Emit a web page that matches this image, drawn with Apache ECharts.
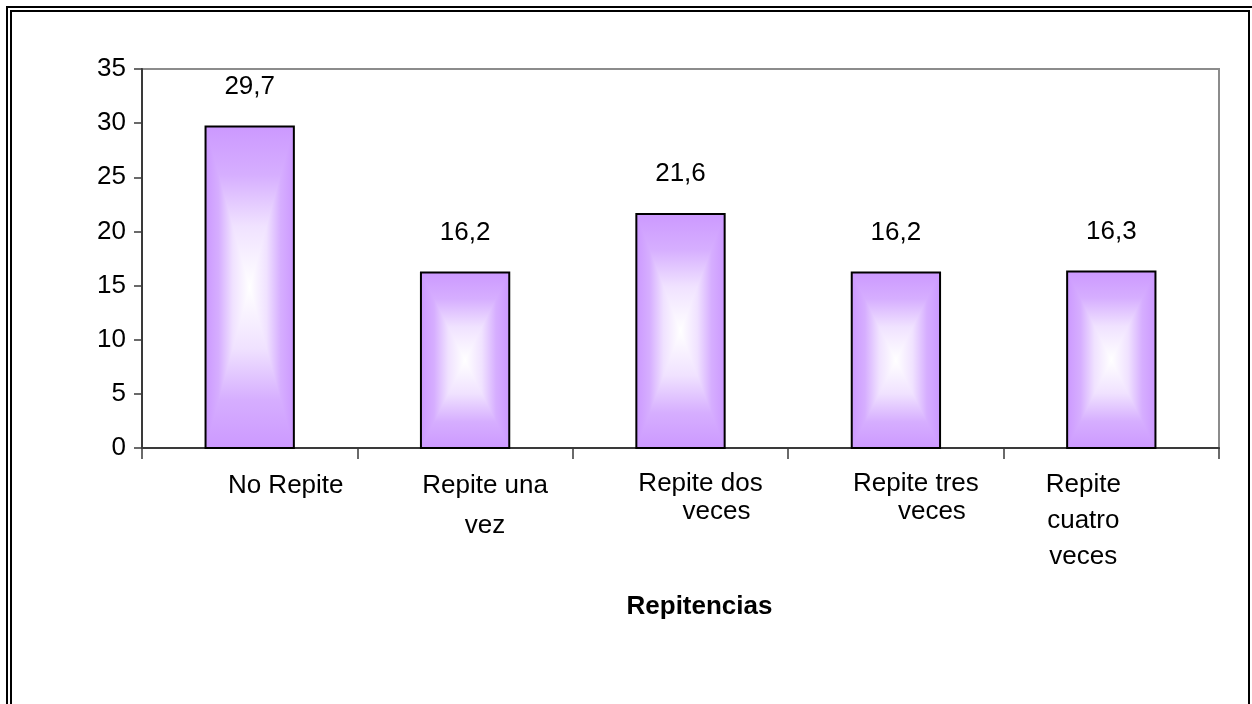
<!DOCTYPE html>
<html>
<head>
<meta charset="utf-8">
<script src="https://cdn.jsdelivr.net/npm/echarts@6/dist/echarts.min.js"></script>
<style>
  html, body { margin: 0; padding: 0; background: #fff; overflow: hidden; }
  #chart { position: absolute; left: 0; top: 0; width: 1252px; height: 704px; }
  .frame-outer { position: absolute; left: 6px; top: 6px; width: 1260px; height: 720px; border: 2px solid #000; pointer-events: none; }
  .frame-inner { position: absolute; left: 10px; top: 10px; width: 1236px; height: 720px; border: 2px solid #000; pointer-events: none; }
</style>
</head>
<body>
<div id="chart"></div>
<div class="frame-outer"></div>
<div class="frame-inner"></div>
<script>
// ---- data ----
const categories = ['No Repite', 'Repite una vez', 'Repite dos veces', 'Repite tres veces', 'Repite cuatro veces'];
const categoryLabelText = ['No Repite', 'Repite una\nvez', 'Repite dos\n{s|}veces', 'Repite tres\n{s|}veces', 'Repite\ncuatro\nveces'];
const values = [29.7, 16.2, 21.6, 16.2, 16.3];
const yTicks = { min: 0, max: 35, interval: 5 };
const axisName = 'Repitencias';

// ---- styling ----
const FONT = '"Liberation Sans", Arial, sans-serif';
const ramp = [
  { t: 0, c: '#CC99FF' },
  { t: 0.3, c: '#D6AEFF' },
  { t: 0.62, c: '#F0E2FF' },
  { t: 1, c: '#FFFFFF' }
];
const labelStyles = [
  { padding: [0, 0, 0, 72], lineHeight: 37 },
  { padding: [-1, 0, 0, 40], lineHeight: 40 },
  { padding: [3, 0, 0, 40], lineHeight: 28 },
  { padding: [3, 0, 0, 40], lineHeight: 28 },
  { padding: [0, 56, 0, 0], lineHeight: 36 }
];

function fmt(v) { return String(v.toFixed(1)).replace('.', ','); }

const chart = echarts.init(document.getElementById('chart'), null, { renderer: 'canvas' });

const xData = categories.map((c, i) => ({ value: c, textStyle: labelStyles[i] }));

function rampStops() {
  return ramp.map(s => ({ offset: s.t, color: s.c }));
}
function horizStops() {
  const left = ramp.map(s => ({ offset: s.t * 0.5, color: s.c }));
  const right = ramp.slice().reverse().map(s => ({ offset: 1 - s.t * 0.5, color: s.c }));
  return left.concat(right.slice(1));
}

const option = {
  animation: false,
  backgroundColor: '#fff',
  grid: {
    left: 142, right: 33, top: 69, bottom: 256,
    show: true, borderColor: '#8c8c8c', borderWidth: 2, backgroundColor: 'transparent'
  },
  xAxis: {
    type: 'category',
    data: xData,
    boundaryGap: true,
    axisLine: { lineStyle: { color: '#3a3a3a', width: 2 } },
    axisTick: { show: true, length: 11, inside: false, lineStyle: { color: '#3a3a3a', width: 1.5 } },
    axisLabel: {
      interval: 0,
      margin: 19,
      color: '#000',
      fontSize: 26,
      fontFamily: FONT,
      align: 'center',
      formatter: function (v, i) { return categoryLabelText[i]; },
      rich: { s: { width: 32 } }
    },
    name: axisName,
    nameLocation: 'middle',
    nameGap: 146,
    nameTextStyle: { color: '#000', fontSize: 26, fontWeight: 'bold', fontFamily: FONT, padding: [0, 0, 0, 38] },
    splitLine: { show: false }
  },
  yAxis: {
    type: 'value',
    min: yTicks.min, max: yTicks.max, interval: yTicks.interval,
    axisLine: { show: true, lineStyle: { color: '#3a3a3a', width: 2 } },
    axisTick: { show: true, length: 8, inside: false, lineStyle: { color: '#3a3a3a', width: 1.5 } },
    axisLabel: { color: '#000', fontSize: 26, fontFamily: FONT, margin: 16 },
    splitLine: { show: false }
  },
  series: [{
    type: 'custom',
    data: values.map((v, i) => [i, v]),
    encode: { x: 0, y: 1 },
    renderItem: function (params, api) {
      const cat = api.value(0), val = api.value(1);
      const top = api.coord([cat, val]);
      const base = api.coord([cat, 0]);
      const bw = api.size([1, 0])[0] * 0.41;
      const cx = top[0];
      const x0 = cx - bw / 2, x1 = cx + bw / 2;
      const y0 = top[1], y1 = base[1], cy = (y0 + y1) / 2;
      return {
        type: 'group',
        children: [
          { type: 'rect', shape: { x: x0, y: y0, width: bw, height: y1 - y0 },
            style: { fill: new echarts.graphic.LinearGradient(0, 0, 1, 0, horizStops()) } },
          { type: 'polygon', shape: { points: [[x0, y0], [x1, y0], [cx, cy]] },
            style: { fill: new echarts.graphic.LinearGradient(0, 0, 0, 1, rampStops()) } },
          { type: 'polygon', shape: { points: [[x0, y1], [x1, y1], [cx, cy]] },
            style: { fill: new echarts.graphic.LinearGradient(0, 1, 0, 0, rampStops()) } },
          { type: 'rect', shape: { x: x0, y: y0, width: bw, height: y1 - y0 },
            style: { fill: null, stroke: '#000', lineWidth: 2 } },
          { type: 'text', x: cx, y: y0 - 27,
            style: { text: fmt(val), fill: '#000', fontSize: 26, fontFamily: FONT,
                     align: 'center', verticalAlign: 'bottom', lineHeight: 26 } }
        ]
      };
    }
  }]
};

chart.setOption(option);
</script>
</body>
</html>
